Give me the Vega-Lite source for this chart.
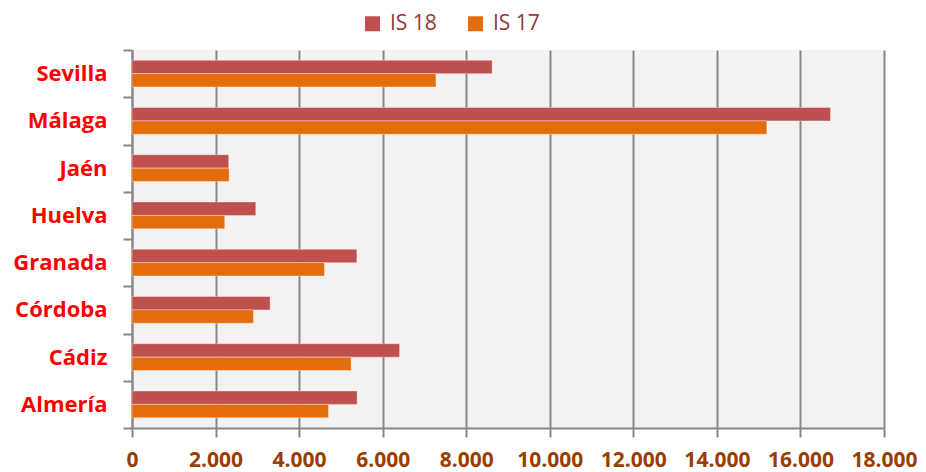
{
  "$schema": "https://vega.github.io/schema/vega-lite/v6.json",
  "width": 752,
  "height": 378,
  "autosize": "none",
  "padding": {"left": 132, "top": 50, "right": 42, "bottom": 44},
  "background": "white",
  "config": {
    "locale": {"number": {"decimal": ",", "thousands": ".", "grouping": [3], "currency": ["", " €"]}},
    "view": {"fill": "#f2f2f2", "stroke": null},
    "font": "Open Sans"
  },
  "data": {
    "values": [
      {"provincia": "Sevilla", "serie": "IS 18", "valor": 8620},
      {"provincia": "Sevilla", "serie": "IS 17", "valor": 7275},
      {"provincia": "Málaga", "serie": "IS 18", "valor": 16720},
      {"provincia": "Málaga", "serie": "IS 17", "valor": 15195},
      {"provincia": "Jaén", "serie": "IS 18", "valor": 2315},
      {"provincia": "Jaén", "serie": "IS 17", "valor": 2325},
      {"provincia": "Huelva", "serie": "IS 18", "valor": 2963},
      {"provincia": "Huelva", "serie": "IS 17", "valor": 2220},
      {"provincia": "Granada", "serie": "IS 18", "valor": 5382},
      {"provincia": "Granada", "serie": "IS 17", "valor": 4608},
      {"provincia": "Córdoba", "serie": "IS 18", "valor": 3305},
      {"provincia": "Córdoba", "serie": "IS 17", "valor": 2907},
      {"provincia": "Cádiz", "serie": "IS 18", "valor": 6405},
      {"provincia": "Cádiz", "serie": "IS 17", "valor": 5246},
      {"provincia": "Almería", "serie": "IS 18", "valor": 5389},
      {"provincia": "Almería", "serie": "IS 17", "valor": 4704}
    ]
  },
  "mark": {"type": "bar", "stroke": "#ffffff", "strokeOpacity": 0.35, "strokeWidth": 1},
  "encoding": {
    "y": {
      "field": "provincia",
      "type": "nominal",
      "sort": ["Sevilla", "Málaga", "Jaén", "Huelva", "Granada", "Córdoba", "Cádiz", "Almería"],
      "scale": {"paddingInner": 0, "paddingOuter": 0},
      "axis": {
        "title": null,
        "labelFont": "Open Sans",
        "labelFontWeight": "bold",
        "labelFontSize": 22,
        "labelColor": "#ff0000",
        "labelPadding": 16,
        "tickBand": "extent",
        "tickSize": 9,
        "tickColor": "#888888",
        "tickWidth": 2,
        "domainColor": "#888888",
        "domainWidth": 2,
        "grid": false
      }
    },
    "yOffset": {
      "field": "serie",
      "type": "nominal",
      "sort": ["IS 18", "IS 17"],
      "scale": {"paddingInner": 0, "paddingOuter": 0.77}
    },
    "x": {
      "field": "valor",
      "type": "quantitative",
      "scale": {"domain": [0, 18000], "nice": false},
      "axis": {
        "title": null,
        "values": [0, 2000, 4000, 6000, 8000, 10000, 12000, 14000, 16000, 18000],
        "format": ",.0f",
        "labelFont": "Open Sans",
        "labelFontWeight": "bold",
        "labelFontSize": 21,
        "labelColor": "#993d00",
        "labelPadding": 12,
        "labelFlush": false,
        "tickSize": 9,
        "tickColor": "#888888",
        "tickWidth": 2,
        "domainColor": "#888888",
        "domainWidth": 2,
        "grid": true,
        "gridColor": "#888888",
        "gridWidth": 2
      }
    },
    "color": {
      "field": "serie",
      "type": "nominal",
      "sort": ["IS 18", "IS 17"],
      "scale": {"domain": ["IS 18", "IS 17"], "range": ["#c0504d", "#e46c0a"]},
      "legend": {
        "title": null,
        "orient": "none",
        "direction": "horizontal",
        "legendX": 230,
        "legendY": -37,
        "symbolType": "square",
        "symbolSize": 225,
        "symbolStrokeWidth": 0,
        "labelFont": "Open Sans",
        "labelFontSize": 21,
        "labelColor": "#953735",
        "labelOffset": 7,
        "columnPadding": 28,
        "padding": 0
      }
    }
  }
}
